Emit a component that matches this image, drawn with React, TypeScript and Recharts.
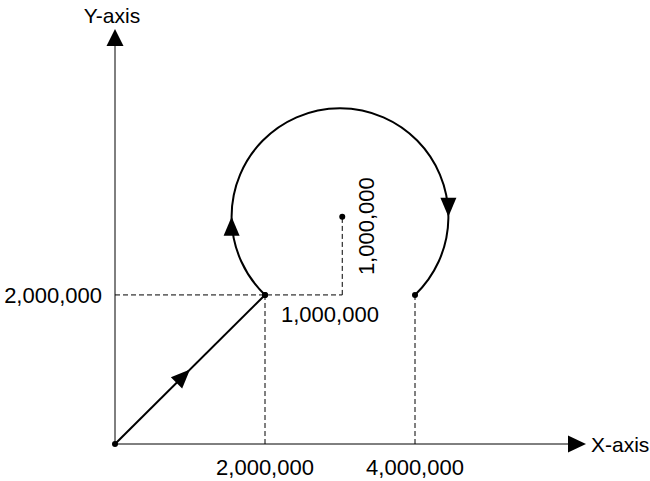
import React from "react";
import { ScatterChart, Scatter, XAxis, YAxis, ReferenceLine, ReferenceDot } from "recharts";

// axis extents and ticks
const X_MAX = 6040000;
const Y_MAX = 5340000;
const X_TICKS = [2000000, 4000000];
const Y_TICKS = [2000000];

// straight move from the origin, then the arc around the centre
const linePoints = [
  { x: 0, y: 0 },
  { x: 2000000, y: 2000000 },
];
const arcPoints = [
  { x: 2000000, y: 2000000 },
  { x: 3030000, y: 3050000 },
  { x: 4000000, y: 2000000 },
];
const offsetLabel = "1,000,000";

const FONT = '"Liberation Sans", Arial, sans-serif';
const NUM_SIZE = 22;
const fmt = (v: number) => v.toLocaleString("en-US");

function arrowHead(tx: number, ty: number, dx: number, dy: number, len = 19, w = 16) {
  const n = Math.hypot(dx, dy);
  const ux = dx / n;
  const uy = dy / n;
  const bx = tx - ux * len;
  const by = ty - uy * len;
  const px = (-uy * w) / 2;
  const py = (ux * w) / 2;
  return `${tx},${ty} ${bx + px},${by + py} ${bx - px},${by - py}`;
}

const Dot = (props: any) => <circle cx={props.cx} cy={props.cy} r={3} fill="#000" />;

const renderLine = (props: any) => {
  const [a, b] = props.points;
  const mx = (a.x + b.x) / 2;
  const my = (a.y + b.y) / 2;
  return (
    <g>
      <line x1={a.x} y1={a.y} x2={b.x} y2={b.y} stroke="#000" strokeWidth={2} />
      <polygon points={arrowHead(mx, my, b.x - a.x, b.y - a.y)} fill="#000" />
    </g>
  );
};

const renderArc = (props: any) => {
  const [s, c, e] = props.points;
  const ox = (s.x + e.x) / 2;
  const r = Math.hypot(s.x - ox, s.y - c.y);
  return (
    <g>
      <path d={`M${s.x},${s.y} A${r},${r} 0 1 1 ${e.x},${e.y}`} fill="none" stroke="#000" strokeWidth={2} />
      <polygon points={arrowHead(ox - r, c.y, 0, -1)} fill="#000" />
      <polygon points={arrowHead(ox + r, c.y, 0, 1)} fill="#000" />
      <text x={s.x + 16} y={s.y + 27} fontSize={NUM_SIZE} fill="#000" fontFamily={FONT}>
        {offsetLabel}
      </text>
      <text
        x={c.x + 24.5}
        y={c.y + 9.5}
        fontSize={NUM_SIZE}
        fill="#000"
        fontFamily={FONT}
        textAnchor="middle"
        dominantBaseline="central"
        transform={`rotate(-90 ${c.x + 24.5} ${c.y + 9.5})`}
      >
        {offsetLabel}
      </text>
    </g>
  );
};

const XArrow = (props: any) => (
  <g>
    <polygon points={arrowHead(props.cx + 18, props.cy, 1, 0, 18, 17)} fill="#000" />
    <text x={props.cx + 23} y={props.cy + 8} fontSize={21} fill="#000" fontFamily={FONT}>
      X-axis
    </text>
  </g>
);

const YArrow = (props: any) => (
  <g>
    <polygon points={arrowHead(props.cx, props.cy - 17, 0, -1, 17, 17)} fill="#000" />
    <text x={props.cx - 3} y={props.cy - 23} fontSize={21} fill="#000" fontFamily={FONT} textAnchor="middle">
      Y-axis
    </text>
  </g>
);

const dash = { stroke: "#000", strokeWidth: 1, strokeDasharray: "5 3", ifOverflow: "visible" as const };

export default function App() {
  return (
    <div style={{ fontFamily: FONT }}>
      <style>{"body{margin:0}"}</style>
      <ScatterChart width={650} height={481} margin={{ top: 46, right: 82, bottom: 0, left: 0 }}>
        <XAxis
          type="number"
          dataKey="x"
          domain={[0, X_MAX]}
          ticks={X_TICKS}
          interval={0}
          tickFormatter={fmt}
          tickLine={false}
          axisLine={{ stroke: "#000" }}
          tick={{ fontSize: NUM_SIZE, fill: "#000" }}
          tickMargin={9}
          height={37}
        />
        <YAxis
          type="number"
          dataKey="y"
          domain={[0, Y_MAX]}
          ticks={Y_TICKS}
          interval={0}
          tickFormatter={fmt}
          tickLine={false}
          axisLine={{ stroke: "#000" }}
          tick={{ fontSize: NUM_SIZE, fill: "#000" }}
          tickMargin={7}
          width={115}
        />
        <ReferenceLine segment={[{ x: 0, y: arcPoints[0].y }, { x: arcPoints[1].x, y: arcPoints[0].y }]} {...dash} />
        <ReferenceLine segment={[{ x: arcPoints[1].x, y: arcPoints[0].y }, { x: arcPoints[1].x, y: arcPoints[1].y }]} {...dash} />
        <ReferenceLine segment={[{ x: arcPoints[0].x, y: 0 }, { x: arcPoints[0].x, y: arcPoints[0].y }]} {...dash} />
        <ReferenceLine segment={[{ x: arcPoints[2].x, y: 0 }, { x: arcPoints[2].x, y: arcPoints[2].y }]} {...dash} />
        <Scatter data={linePoints} fill="#000" line={renderLine} shape={Dot} isAnimationActive={false} />
        <Scatter data={arcPoints} fill="#000" line={renderArc} shape={Dot} isAnimationActive={false} />
        <ReferenceDot x={X_MAX} y={0} shape={XArrow} ifOverflow="visible" />
        <ReferenceDot x={0} y={Y_MAX} shape={YArrow} ifOverflow="visible" />
      </ScatterChart>
    </div>
  );
}
